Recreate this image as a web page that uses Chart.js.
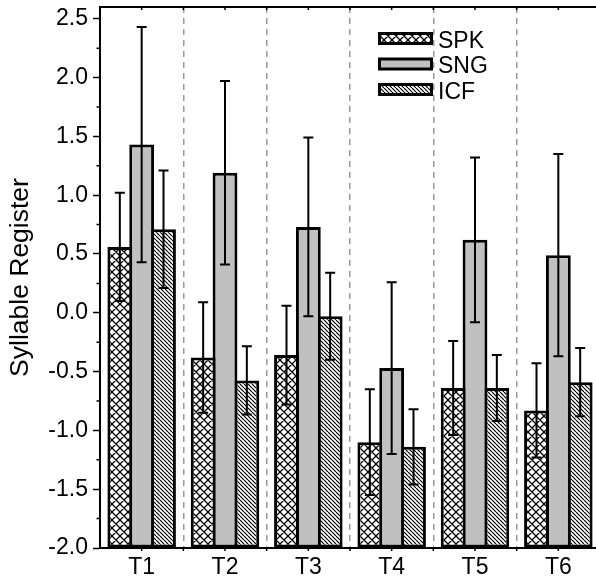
<!DOCTYPE html>
<html>
<head>
<meta charset="utf-8">
<style>
  html, body { margin: 0; padding: 0; background: #fff; overflow: hidden; }
  #wrap { width: 604px; height: 585px; }
</style>
<script src="https://cdn.jsdelivr.net/npm/chart.js@4/dist/chart.umd.min.js"></script>
</head>
<body>
<div id="wrap"><canvas id="c" width="604" height="585"></canvas></div>
<script>
// Tone categories and the three speaking conditions
const categories = ['T1', 'T2', 'T3', 'T4', 'T5', 'T6'];
const seriesNames = ['SPK', 'SNG', 'ICF'];

// Mean syllable register and error half-widths per condition
const spk    = [0.56, -0.38, -0.36, -1.10, -0.64, -0.83];
const spkErr = [0.46,  0.47,  0.42,  0.45,  0.40,  0.40];
const sng    = [1.43,  1.19,  0.73, -0.47,  0.62,  0.49];
const sngErr = [1.00,  0.78,  0.76,  0.73,  0.70,  0.86];
const icf    = [0.71, -0.575, -0.03, -1.14, -0.64, -0.59];
const icfErr = [0.50,  0.29,  0.37,  0.32,  0.28,  0.29];

// Value axis
const yTickValues  = [-2.0, -1.5, -1.0, -0.5, 0.0, 0.5, 1.0, 1.5, 2.0, 2.5];
const yMinorValues = [-1.75, -1.25, -0.75, -0.25, 0.25, 0.75, 1.25, 1.75, 2.25];
const yMin = -2.0;
const yMax = 2.6;

const FONT = 'Liberation Sans';
Chart.defaults.font.family = FONT;
Chart.defaults.color = '#000';

// Fill patterns
function crossHatch() {
  const n = 8;
  const t = document.createElement('canvas');
  t.width = t.height = n;
  const g = t.getContext('2d');
  g.fillStyle = '#fff';
  g.fillRect(0, 0, n, n);
  g.strokeStyle = '#000';
  g.lineWidth = 1.3;
  g.beginPath();
  for (const k of [-n, 0, n]) {
    g.moveTo(k, 0); g.lineTo(k + n, n);
    g.moveTo(k + n, 0); g.lineTo(k, n);
  }
  g.stroke();
  return g.createPattern(t, 'repeat');
}
function backHatch() {
  const n = 4;
  const t = document.createElement('canvas');
  t.width = t.height = n;
  const g = t.getContext('2d');
  g.fillStyle = '#fff';
  g.fillRect(0, 0, n, n);
  g.strokeStyle = '#000';
  g.lineWidth = 1.2;
  g.beginPath();
  for (const k of [-n, 0, n]) {
    g.moveTo(k, 0); g.lineTo(k + n, n);
  }
  g.stroke();
  return g.createPattern(t, 'repeat');
}

const fills = [crossHatch(), '#c0c0c0', backHatch()];
const values = [spk, sng, icf];
const errors = [spkErr, sngErr, icfErr];

const datasets = seriesNames.map((name, i) => ({
  label: name,
  data: values[i],
  errors: errors[i],
  backgroundColor: fills[i],
  borderColor: '#000',
  borderWidth: 3,
  borderSkipped: false,
  base: yMin,
  barPercentage: 1.137,
  categoryPercentage: 0.786
}));

// Error bars with caps
const errorBars = {
  id: 'errorBars',
  afterDatasetsDraw(chart) {
    const ctx = chart.ctx;
    const y = chart.scales.y;
    chart.data.datasets.forEach((ds, i) => {
      const meta = chart.getDatasetMeta(i);
      meta.data.forEach((bar, j) => {
        const v = ds.data[j], e = ds.errors[j];
        const x = bar.x;
        const yt = y.getPixelForValue(v + e);
        const yb = y.getPixelForValue(v - e);
        ctx.save();
        ctx.strokeStyle = '#000';
        ctx.lineWidth = 2;
        ctx.beginPath();
        ctx.moveTo(x, yt); ctx.lineTo(x, yb);
        ctx.moveTo(x - 5, yt); ctx.lineTo(x + 5, yt);
        ctx.moveTo(x - 5, yb); ctx.lineTo(x + 5, yb);
        ctx.stroke();
        ctx.restore();
      });
    });
  }
};

// Top frame line, small category ticks and minor value ticks
const frame = {
  id: 'frame',
  afterDraw(chart) {
    const ctx = chart.ctx;
    const a = chart.chartArea;
    const xs = chart.scales.x, ys = chart.scales.y;
    ctx.save();
    ctx.strokeStyle = '#000';
    ctx.lineWidth = 2;
    ctx.beginPath();
    ctx.moveTo(a.left, a.top); ctx.lineTo(a.right, a.top);
    ctx.stroke();

    ctx.lineWidth = 1.5;
    ctx.beginPath();
    const half = (xs.getPixelForValue(1) - xs.getPixelForValue(0)) / 2;
    categories.forEach((c, i) => {
      const cx = xs.getPixelForValue(i);
      for (const px of [cx, cx + half]) {
        ctx.moveTo(px, a.top); ctx.lineTo(px, a.top + 3);
        ctx.moveTo(px, a.bottom); ctx.lineTo(px, a.bottom + 3);
      }
    });
    yMinorValues.forEach(v => {
      const py = ys.getPixelForValue(v);
      ctx.moveTo(a.left - 3.5, py); ctx.lineTo(a.left, py);
    });
    ctx.stroke();
    ctx.restore();
  }
};

// Legend boxes drawn from the dataset styles
const boxLegend = {
  id: 'boxLegend',
  afterDraw(chart) {
    const ctx = chart.ctx;
    const x0 = 378, y0 = 32, w = 55, h = 13, step = 25.5;
    chart.data.datasets.forEach((ds, i) => {
      const top = y0 + i * step;
      ctx.save();
      ctx.fillStyle = '#000';
      ctx.fillRect(x0, top, w, h);
      ctx.fillStyle = ds.backgroundColor;
      ctx.fillRect(x0 + 3, top + 3, w - 6, h - 6);
      ctx.fillStyle = '#000';
      ctx.font = '23px "' + FONT + '"';
      ctx.textBaseline = 'middle';
      ctx.textAlign = 'left';
      ctx.fillText(ds.label, x0 + w + 5, top + h / 2 + 3);
      ctx.restore();
    });
  }
};

new Chart(document.getElementById('c'), {
  type: 'bar',
  data: { labels: categories, datasets },
  options: {
    responsive: false,
    animation: false,
    layout: { padding: { left: 0, top: 7, right: 4, bottom: 0 } },
    plugins: { legend: { display: false }, tooltip: { enabled: false } },
    scales: {
      x: {
        type: 'category',
        offset: true,
        grid: {
          offset: true,
          drawOnChartArea: true,
          drawTicks: false,
          lineWidth: 1.5,
          color: (c) => (c.index > 0 && c.index < categories.length) ? '#9a9a9a' : 'rgba(0,0,0,0)'
        },
        border: { display: true, color: '#000', width: 2, dash: [6, 5] },
        ticks: { color: '#000', font: { family: FONT, size: 23 }, padding: 6, maxRotation: 0 },
        afterFit(s) { s.height = 37; }
      },
      y: {
        min: yMin,
        max: yMax,
        afterBuildTicks(s) { s.ticks = yTickValues.map(v => ({ value: v })); },
        grid: { drawOnChartArea: false, drawTicks: true, tickLength: 7, tickColor: '#000', tickWidth: 1.5 },
        border: { display: true, color: '#000', width: 2 },
        ticks: { color: '#000', font: { family: FONT, size: 23 }, padding: 5, callback: (v) => Number(v).toFixed(1) },
        title: { display: true, text: 'Syllable Register', color: '#000', font: { family: FONT, size: 26.5 }, padding: { top: 5, bottom: 0 } },
        afterFit(s) { s.width = 100; s.paddingTop = 0; s.paddingBottom = 0; }
      }
    }
  },
  plugins: [errorBars, frame, boxLegend]
});
</script>
</body>
</html>
